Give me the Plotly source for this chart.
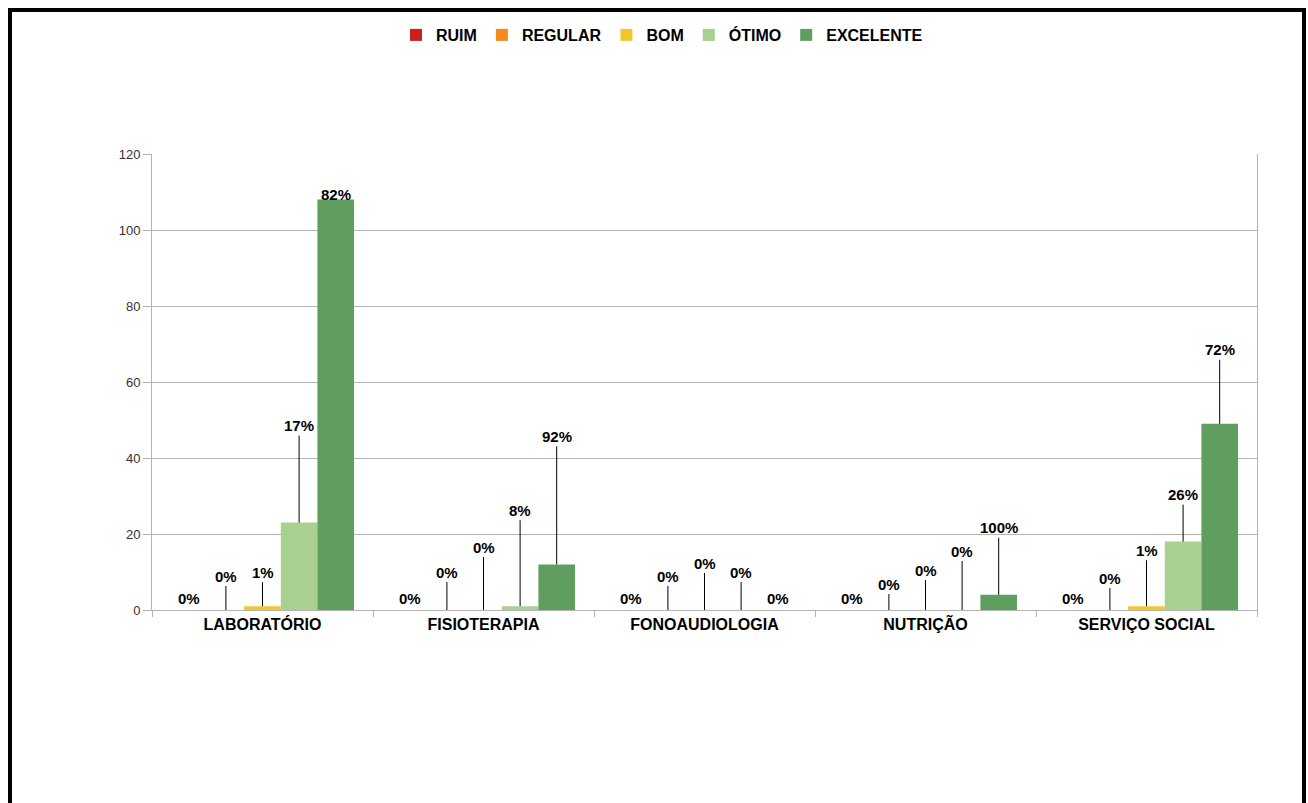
import plotly.graph_objects as go

# Survey results by service
categories = ["LABORATÓRIO", "FISIOTERAPIA", "FONOAUDIOLOGIA", "NUTRIÇÃO", "SERVIÇO SOCIAL"]
series_names = ["RUIM", "REGULAR", "BOM", "ÓTIMO", "EXCELENTE"]
ruim = [0, 0, 0, 0, 0]
regular = [0, 0, 0, 0, 0]
bom = [1, 0, 0, 0, 1]
otimo = [23, 1, 0, 0, 18]
excelente = [108, 12, 0, 4, 49]
y_ticks = [0, 20, 40, 60, 80, 100, 120]

series_values = [ruim, regular, bom, otimo, excelente]
colors = ["#C9211E", "#F28A1C", "#F2C72E", "#A9D08E", "#5F9E5F"]

# vertical lift (px) of each percentage label above its bar, per category
label_lift = [
    [-12, -34, -34, -97, -5],
    [-12, -38, -63, -96, -128],
    [-12, -34, -47, -38, -12],
    [-12, -26, -40, -59, -67],
    [-12, -32, -56, -47, -74],
]

W, H = 1308, 803
ML, MR, MT, MB = 152, 51, 154, 193
PW, PH = W - ML - MR, H - MT - MB
BARGAP = 0.172
FONT = "Liberation Sans, Arial, sans-serif"

fig = go.Figure()
for name, vals, col in zip(series_names, series_values, colors):
    fig.add_trace(go.Bar(
        x=categories, y=vals, name=name,
        marker=dict(color=col, line=dict(width=0)),
    ))

totals = [sum(s[c] for s in series_values) for c in range(len(categories))]
n = len(series_names)
bw = (1 - BARGAP) / n
annotations = []
for c in range(len(categories)):
    for s in range(n):
        v = series_values[s][c]
        pct = int(v / totals[c] * 100 + 0.5) if totals[c] else 0
        xpos = c + (s - (n - 1) / 2) * bw
        lift = label_lift[c][s]
        common = dict(x=xpos, y=v, xref="x", yref="y", text=f"<b>{pct}%</b>",
                      font=dict(family=FONT, size=15, color="#000000"))
        if abs(lift) <= 14:
            annotations.append(dict(showarrow=False, yanchor="middle",
                                    yshift=-lift, **common))
        else:
            annotations.append(dict(showarrow=True, ax=0, ay=lift, arrowhead=0,
                                    arrowwidth=1, arrowcolor="#000000",
                                    standoff=0, startstandoff=0, **common))


def px_x(px):
    return (px - ML) / PW


def px_y(py):
    return (H - MB - py) / PH


# page frame
fig.add_shape(type="line", xref="paper", yref="paper",
              x0=px_x(10), x1=px_x(10), y0=px_y(8), y1=px_y(820),
              line=dict(color="#000000", width=4))
fig.add_shape(type="line", xref="paper", yref="paper",
              x0=px_x(8), x1=px_x(1306), y0=px_y(10), y1=px_y(10),
              line=dict(color="#000000", width=4))
fig.add_shape(type="line", xref="paper", yref="paper",
              x0=px_x(1304), x1=px_x(1304), y0=px_y(8), y1=px_y(820),
              line=dict(color="#000000", width=4))

fig.update_layout(
    width=W, height=H,
    margin=dict(l=ML, r=MR, t=MT, b=MB, pad=0),
    paper_bgcolor="#FFFFFF", plot_bgcolor="#FFFFFF",
    barmode="group", bargap=BARGAP, bargroupgap=0,
    annotations=annotations,
    showlegend=True,
    legend=dict(orientation="h", x=px_x(662), xanchor="center",
                y=px_y(35), yanchor="middle",
                font=dict(family=FONT, size=16, color="#000000", weight="bold"),
                itemwidth=30, tracegroupgap=0, bgcolor="rgba(0,0,0,0)"),
    font=dict(family=FONT),
)
fig.update_xaxes(
    type="category", showgrid=False, showline=True, linecolor="#B3B3B3",
    linewidth=1, ticks="outside", tickson="boundaries", ticklen=6,
    tickcolor="#B3B3B3", tickfont=dict(family=FONT, size=16, color="#000000",
                                       weight="bold"),
    range=[-0.5, len(categories) - 0.5], zeroline=False,
)
fig.update_yaxes(
    range=[0, 120], tickvals=y_ticks, showgrid=True, gridcolor="#B3B3B3",
    gridwidth=1, showline=True, mirror=True, linecolor="#B3B3B3", linewidth=1,
    ticks="outside", ticklen=8, tickcolor="#B3B3B3",
    tickfont=dict(family=FONT, size=13, color="#333333"), zeroline=False,
)

fig.write_html("out.html")
